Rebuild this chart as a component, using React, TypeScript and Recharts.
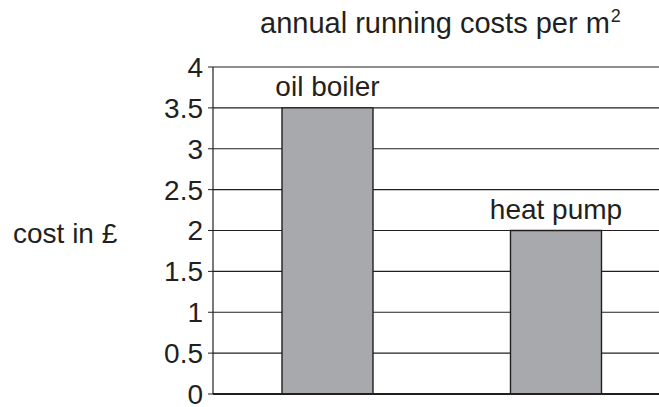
import { BarChart, Bar, XAxis, YAxis, CartesianGrid, LabelList } from 'recharts'

const categories = ['oil boiler', 'heat pump']
const costs = [3.5, 2]
const yTicks = [0, 0.5, 1, 1.5, 2, 2.5, 3, 3.5, 4]

const INK = '#231f20'
const FONT = '"Liberation Sans", Arial, Helvetica, sans-serif'

const data = categories.map((name, i) => ({ name, cost: costs[i] }))

export default function App() {
  return (
    <div
      style={{
        position: 'absolute',
        left: 0,
        top: 0,
        width: 659,
        height: 407,
        overflow: 'hidden',
        background: '#fff',
        fontFamily: FONT,
        color: INK,
      }}
    >
      <div
        style={{
          position: 'absolute',
          left: 260,
          top: 9,
          fontSize: 29,
          lineHeight: '29px',
          whiteSpace: 'nowrap',
        }}
      >
        annual running costs per m
        <span style={{ fontSize: 18, position: 'relative', top: -11, marginLeft: 1 }}>2</span>
      </div>
      <div
        style={{
          position: 'absolute',
          left: 13,
          top: 220,
          fontSize: 28,
          lineHeight: '28px',
          whiteSpace: 'nowrap',
        }}
      >
        cost in £
      </div>
      <BarChart
        width={680}
        height={407}
        data={data}
        margin={{ top: 67, right: 10, bottom: 12, left: 0 }}
        barCategoryGap={0}
        style={{ position: 'absolute', left: 0, top: 0 }}
      >
        <CartesianGrid vertical={false} stroke={INK} strokeWidth={1.2} />
        <XAxis
          dataKey="name"
          height={1}
          tick={false}
          tickLine={false}
          axisLine={{ stroke: INK, strokeWidth: 2.2 }}
        />
        <YAxis
          width={213}
          domain={[0, 4]}
          ticks={yTicks}
          interval={0}
          tickSize={5}
          tickMargin={5}
          tick={{ fill: INK, fontSize: 28, fontFamily: FONT }}
          tickLine={{ stroke: INK }}
          axisLine={{ stroke: INK, strokeWidth: 1.2 }}
        />
        <Bar
          dataKey="cost"
          barSize={91}
          fill="#a7a9ac"
          stroke={INK}
          strokeWidth={1.4}
          isAnimationActive={false}
        >
          <LabelList
            dataKey="name"
            position="top"
            offset={12}
            fill={INK}
            fontSize={28}
            fontFamily={FONT}
          />
        </Bar>
      </BarChart>
    </div>
  )
}
